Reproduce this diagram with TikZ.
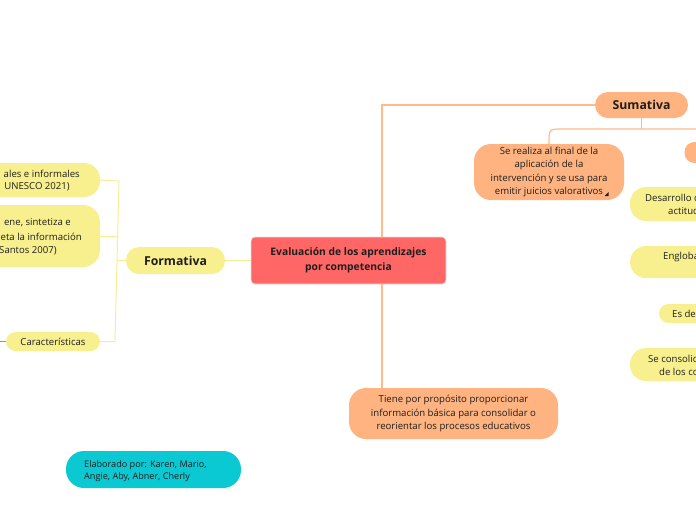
\documentclass[tikz,border=0pt]{standalone}
\usepackage{fontspec}
\setmainfont{Open Sans}
\definecolor{txt}{HTML}{1E1E1E}
\definecolor{cred}{HTML}{FF6666}
\definecolor{cyel}{HTML}{F8F08E}
\definecolor{cora}{HTML}{FFB380}
\definecolor{ccya}{HTML}{0BC9D3}
\definecolor{lyel}{HTML}{F6EE96}
\definecolor{lora}{HTML}{FFBA8C}
\begin{document}
\begin{tikzpicture}[x=1pt,y=-1pt,
  base/.style={inner sep=0pt,text=txt,font=\fontsize{9.6}{13.3}\selectfont,align=center},
  pill/.style={base,shape=rectangle,minimum width=#1},
  ybox/.style={fill=cyel},
  obox/.style={fill=cora},
  ylink/.style={draw=lyel,line width=1pt},
  olink/.style={draw=lora,line width=1.2pt},
  bigb/.style={font=\fontsize{12.3}{14}\bfseries\selectfont},
  lbl/.style={inner sep=0pt,text=txt,font=\fontsize{9.6}{13.3}\selectfont}]
\useasboundingbox (0,0) rectangle (696,520);
\clip (0,0) rectangle (696,520);
% connector points
\coordinate (ctop) at (382,237);
\coordinate (cbot) at (382,284);
\coordinate (ft) at (119,181);
\coordinate (fm) at (117.6,236);
\coordinate (fj) at (116.8,260.5);
\coordinate (fb) at (115,341.5);
\coordinate (sj) at (641.5,129);
\coordinate (sr) at (700,129);
\coordinate (cl) at (-5,341.5);
% nodes
\node[pill=195pt,minimum height=47pt,fill=cred,draw=black!12,line width=0.6pt,rounded corners=4pt,
  font=\fontsize{10.3}{15}\bfseries\selectfont] (central) at (348.5,260.5)
  {Evaluación de los aprendizajes\\por competencia};
\node[pill=99pt,minimum height=27pt,ybox,rounded corners=13pt,bigb] (formativa) at (175.5,260.5) {Formativa};
\node[pill=93pt,minimum height=26pt,obox,rounded corners=13pt,bigb] (sumativa) at (641.5,105) {Sumativa};
\node[pill=150pt,minimum height=56pt,obox,rounded corners=17pt] (serealiza) at (549,172)
  {Se realiza al final de la\\aplicación de la\\intervención y se usa para\\emitir juicios valorativos\hspace{3pt}};
\node[pill=209pt,minimum height=51pt,obox,rounded corners=17pt] (tiene) at (453.5,413.5)
  {Tiene por propósito proporcionar\\información básica para consolidar o\\reorientar los procesos educativos};
\node[pill=175pt,minimum height=37pt,fill=ccya,rounded corners=18pt] (elab) at (153.5,469.5) {};
\node[lbl,anchor=west,align=left,font=\fontsize{9.1}{12}\selectfont] (elabt) at (84,471) {Elaborado por: Karen, Mario,\\Angie, Aby, Abner, Cherly};
\node[pill=94pt,minimum height=19pt,ybox,rounded corners=9.5pt] (carac) at (53,341.5) {Características};
% left cropped nodes
\node[pill=160pt,minimum height=34pt,ybox,rounded corners=16pt] (left1) at (20,180) {};
\node[lbl,anchor=east] (l1a) at (80,173.5) {ales e informales};
\node[lbl,anchor=east] (l1b) at (70,187) {UNESCO 2021)};
\node[pill=160pt,minimum height=62pt,ybox,rounded corners=17pt] (left2) at (20,236) {};
\node[lbl,anchor=east] (l2a) at (71,223) {ene, sintetiza e};
\node[lbl,anchor=east] (l2b) at (82,237) {eta la información};
\node[lbl,anchor=east] (l2c) at (57,251) {Santos 2007)};
% right cropped nodes
\node[pill=75pt,minimum height=21pt,obox,rounded corners=10pt] (rora) at (722,152.5) {};
\node[pill=130pt,minimum height=34pt,ybox,rounded corners=16pt] (r1) at (695,204) {};
\node[lbl,anchor=west] (r1a) at (645,197.5) {Desarrollo d};
\node[lbl,anchor=west] (r1b) at (668,211) {actitud};
\node[pill=130pt,minimum height=32pt,ybox,rounded corners=16pt] (r2) at (695,262) {};
\node[lbl,anchor=west] (r2a) at (663,257) {Engloba};
\node[pill=101pt,minimum height=19pt,ybox,rounded corners=9.5pt] (r3) at (709.5,313.5) {};
\node[lbl,anchor=west] (r3a) at (672,313.5) {Es de};
\node[pill=130pt,minimum height=33pt,ybox,rounded corners=16pt] (r4) at (695,364.5) {};
\node[lbl,anchor=west] (r4a) at (648,358.5) {Se consolid};
\node[lbl,anchor=west] (r4b) at (659,372) {de los co};
% note icon
\fill[txt] (604.5,196) -- (608.5,196) -- (608.5,192) -- cycle;
% links
\draw[ylink] (central.west) -- (formativa.east);
\draw[ylink] (left1.east) -- (ft) -- (fb) -- (carac.east);
\draw[ylink] (left2.east) -- (fm);
\draw[ylink] (formativa.west) -- (fj);
\draw[olink] (ctop) |- (sumativa.west);
\draw[olink] (cbot) -- (cbot |- tiene.north);
\draw[olink] (sumativa.south) -- (sj);
\draw[olink] (serealiza.north) .. controls (549,129) .. (562,129) -- (sr);
\draw[draw=cred,line width=1.2pt] (carac.west) -- (cl);
\end{tikzpicture}
\end{document}
